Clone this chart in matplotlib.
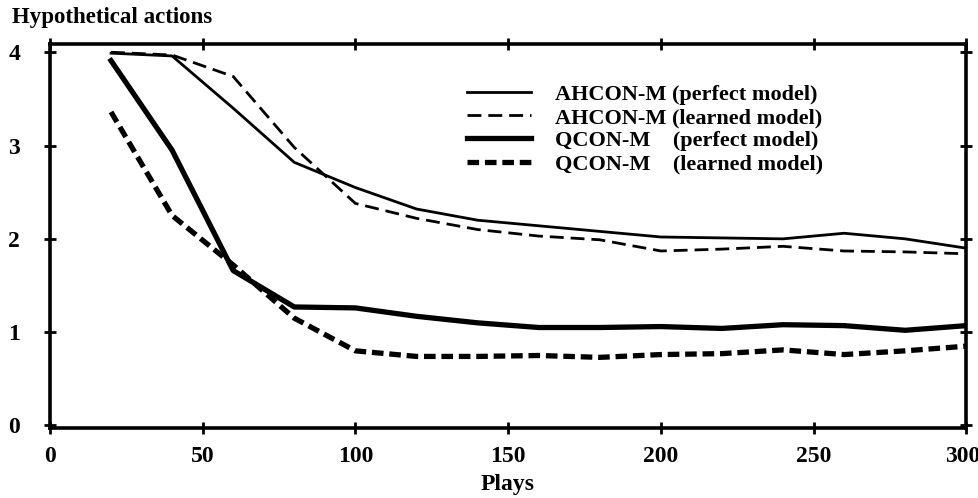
import matplotlib
matplotlib.use("Agg")
import matplotlib.pyplot as plt
from matplotlib.transforms import ScaledTranslation

# Plays at which each curve was sampled
plays = [20, 40, 60, 80, 100, 120, 140, 160, 180, 200, 220, 240, 260, 280, 300]

ahcon_perfect = [3.99, 3.96, 3.40, 2.82, 2.55, 2.32, 2.20, 2.14, 2.08, 2.02, 2.01, 2.00, 2.06, 2.00, 1.90]
ahcon_learned = [4.00, 3.97, 3.74, 2.98, 2.38, 2.22, 2.10, 2.03, 1.99, 1.87, 1.89, 1.92, 1.87, 1.86, 1.84]
qcon_perfect = [3.91, 2.95, 1.66, 1.27, 1.26, 1.17, 1.10, 1.05, 1.05, 1.06, 1.04, 1.08, 1.07, 1.02, 1.07]
qcon_learned = [3.36, 2.25, 1.72, 1.15, 0.80, 0.74, 0.74, 0.75, 0.73, 0.76, 0.77, 0.81, 0.76, 0.80, 0.85]

labels = ["AHCON-M (perfect model)", "AHCON-M (learned model)",
          "QCON-M    (perfect model)", "QCON-M    (learned model)"]

x_ticks = [0, 50, 100, 150, 200, 250, 300]
y_ticks = [0, 1, 2, 3, 4]

plt.rcParams["font.family"] = ["Liberation Serif", "DejaVu Serif"]
plt.rcParams["font.weight"] = "bold"

fig = plt.figure(figsize=(9.79, 4.98), dpi=100)
ax = fig.add_axes([0.051, 0.14, 0.936, 0.772])

ax.plot(plays, ahcon_perfect, color="black", lw=2.0, label=labels[0])
ax.plot(plays, ahcon_learned, color="black", lw=2.0, dashes=(5, 2.5), label=labels[1])
ax.plot(plays, qcon_perfect, color="black", lw=3.8, label=labels[2])
ax.plot(plays, qcon_learned, color="black", lw=3.8, dashes=(2.2, 1.1), label=labels[3])

ax.set_xlim(0, 300)
ax.set_ylim(-0.03, 4.09)
ax.set_xticks(x_ticks)
ax.set_yticks(y_ticks)
ax.tick_params(direction="inout", length=9, width=2, top=True, right=True, labelsize=17)
ax.tick_params(axis="x", pad=8)
ax.tick_params(axis="y", pad=17)
for spine in ax.spines.values():
    spine.set_linewidth(2.6)

# keep the last x label inside the canvas, as in the scan
last = ax.get_xticklabels()[-1]
last.set_transform(last.get_transform() + ScaledTranslation(-0.04, 0, fig.dpi_scale_trans))

ax.set_xlabel("Plays", fontsize=17, fontweight="bold", labelpad=5)
fig.text(0.012, 0.954, "Hypothetical actions", fontsize=16.5, fontweight="bold",
         ha="left", va="baseline")

ax.legend(loc="upper left", bbox_to_anchor=(0.445, 0.918), frameon=False,
          fontsize=16, handlelength=2.9, handletextpad=1.1, labelspacing=0.12,
          borderaxespad=0)

fig.savefig("out.png", dpi=100)
plt.close(fig)
